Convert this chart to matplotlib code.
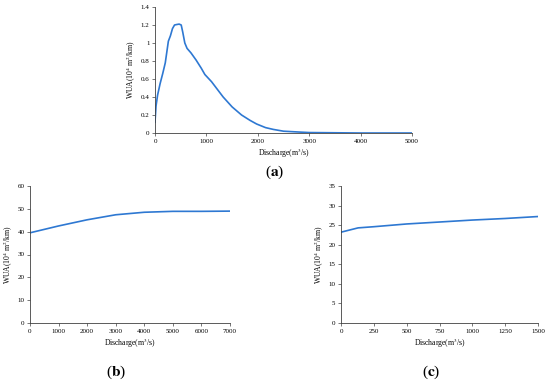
import matplotlib
matplotlib.use('Agg')
import matplotlib.pyplot as plt

plt.rcParams['font.family'] = ['Liberation Serif', 'DejaVu Serif']
plt.rcParams['mathtext.fontset'] = 'stix'

# panel (a)
qa = [0, 20, 50, 100, 150, 200, 230, 260, 300, 340, 380, 420, 470, 510, 540, 580, 624, 700,
      800, 900, 970, 1100, 1326, 1500, 1684, 1850, 1977, 2150, 2300, 2500, 2822, 3000, 4000, 5000]
wa = [0.12, 0.3, 0.42, 0.55, 0.66, 0.78, 0.9, 1.02, 1.08, 1.16, 1.2, 1.205, 1.21, 1.2, 1.12,
      1.0, 0.94, 0.89, 0.81, 0.72, 0.65, 0.57, 0.4, 0.29, 0.2, 0.14, 0.1, 0.06, 0.04, 0.02,
      0.01, 0.005, 0.0, 0.0]
# panel (b)
qb = [0, 1000, 2000, 3000, 4000, 5000, 6000, 7000]
wb = [39.5, 42.5, 45.2, 47.4, 48.5, 48.9, 48.9, 49.0]
# panel (c)
qc = [0, 130, 250, 500, 750, 1000, 1250, 1500]
wc = [23.2, 24.3, 24.6, 25.3, 25.8, 26.3, 26.7, 27.2]

line_col = '#2E78D2'
ylab = 'WUA(10$^4$ m$^2$/km)'
xlab = 'Discharge(m$^3$/s)'

fig = plt.figure(figsize=(5.5, 3.82), dpi=100)
W, H = 550, 382

def add_ax(l, r, t, b):
    return fig.add_axes([l / W, 1 - b / H, (r - l) / W, (b - t) / H])

def style(ax):
    for s in ['top', 'right']:
        ax.spines[s].set_visible(False)
    for s in ['left', 'bottom']:
        ax.spines[s].set_color('#404040')
        ax.spines[s].set_linewidth(0.6)
    ax.tick_params(labelsize=5, length=2, width=0.5, pad=2, colors='#404040', labelcolor='black')
    ax.set_ylabel(ylab, fontsize=5.5, labelpad=2)
    ax.set_xlabel(xlab, fontsize=5.5, labelpad=2)

ax1 = add_ax(155, 412, 7, 133)
ax1.plot(qa, wa, color=line_col, lw=1.2)
ax1.set_xlim(0, 5000)
ax1.set_ylim(0, 1.4)
ax1.set_xticks([0, 1000, 2000, 3000, 4000, 5000])
ax1.set_yticks([0, 0.2, 0.4, 0.6, 0.8, 1, 1.2, 1.4])
ax1.set_yticklabels(['0', '0.2', '0.4', '0.6', '0.8', '1', '1.2', '1.4'])
style(ax1)

ax2 = add_ax(30, 230, 186, 323)
ax2.plot(qb, wb, color=line_col, lw=1.2)
ax2.set_xlim(0, 7000)
ax2.set_ylim(0, 60)
ax2.set_xticks(range(0, 7001, 1000))
ax2.set_yticks(range(0, 61, 10))
style(ax2)

ax3 = add_ax(341, 538, 186, 323)
ax3.plot(qc, wc, color=line_col, lw=1.2)
ax3.set_xlim(0, 1500)
ax3.set_ylim(0, 35)
ax3.set_xticks(range(0, 1501, 250))
ax3.set_yticks(range(0, 36, 5))
style(ax3)

fig.text(275 / W, 1 - 172 / H, r'($\mathbf{a}$)', ha='center', va='center', fontsize=11)
fig.text(116 / W, 1 - 372 / H, r'($\mathbf{b}$)', ha='center', va='center', fontsize=11)
fig.text(431 / W, 1 - 372 / H, r'($\mathbf{c}$)', ha='center', va='center', fontsize=11)

fig.savefig('out.png', dpi=100)
